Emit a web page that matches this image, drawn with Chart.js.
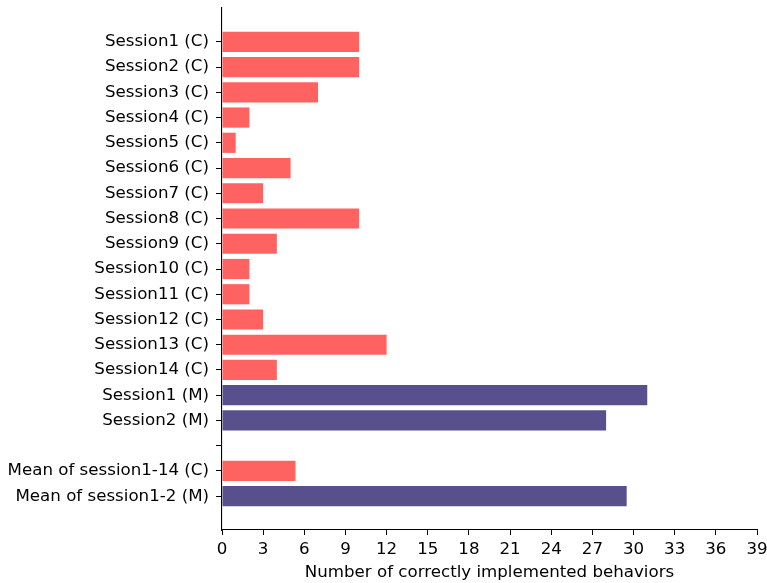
<!DOCTYPE html>
<html>
<head>
<meta charset="utf-8">
<script src="https://cdn.jsdelivr.net/npm/chart.js@4.4.1/dist/chart.umd.min.js"></script>
<style>
  html, body { margin: 0; padding: 0; background: #fff; }
  #wrap { width: 767px; height: 583px; position: relative; }
</style>
</head>
<body>
<div id="wrap"><canvas id="chart" width="767" height="583"></canvas></div>
<script>
// Row labels, top to bottom (the empty entry is a spacer row)
const categories = [
  'Session1 (C)', 'Session2 (C)', 'Session3 (C)', 'Session4 (C)', 'Session5 (C)',
  'Session6 (C)', 'Session7 (C)', 'Session8 (C)', 'Session9 (C)', 'Session10 (C)',
  'Session11 (C)', 'Session12 (C)', 'Session13 (C)', 'Session14 (C)',
  'Session1 (M)', 'Session2 (M)', '',
  'Mean of session1-14 (C)', 'Mean of session1-2 (M)'
];
const cSessions = ['Session1 (C)', 'Session2 (C)', 'Session3 (C)', 'Session4 (C)', 'Session5 (C)',
  'Session6 (C)', 'Session7 (C)', 'Session8 (C)', 'Session9 (C)', 'Session10 (C)',
  'Session11 (C)', 'Session12 (C)', 'Session13 (C)', 'Session14 (C)'];
const cValues = [10, 10, 7, 2, 1, 5, 3, 10, 4, 2, 2, 3, 12, 4];
const mSessions = ['Session1 (M)', 'Session2 (M)'];
const mValues = [31, 28];
const meanLabels = ['Mean of session1-14 (C)', 'Mean of session1-2 (M)'];
const meanValues = [5.36, 29.5];
const xTicks = [0, 3, 6, 9, 12, 15, 18, 21, 24, 27, 30, 33, 36, 39];

const FONT = "'DejaVu Sans', sans-serif";
const FONT_SIZE = 16.67;
const RED = '#ff6361';
const PURPLE = '#58508d';

const toPoints = (labels, values) => labels.map((l, i) => ({ x: values[i], y: categories.indexOf(l) }));

const cData = toPoints(cSessions, cValues).concat(toPoints([meanLabels[0]], [meanValues[0]]));
const mData = toPoints(mSessions, mValues).concat(toPoints([meanLabels[1]], [meanValues[1]]));

// bars span -0.4..n-0.6, plus 5% margin on each side
const n = categories.length;
const span = (n - 1) + 0.8;
const yMin = -0.4 - span * 0.05;
const yMax = (n - 1) + 0.4 + span * 0.05;

// keep tick labels from pushing the plot area inward
const noLabelPadding = (axis) => {
  axis.paddingTop = 0; axis.paddingBottom = 0;
  axis.paddingLeft = 0; axis.paddingRight = 0;
};

new Chart(document.getElementById('chart'), {
  type: 'bar',
  data: {
    datasets: [
      { label: 'C', data: cData, backgroundColor: RED, barPercentage: 0.8, categoryPercentage: 1.0, grouped: false },
      { label: 'M', data: mData, backgroundColor: PURPLE, barPercentage: 0.8, categoryPercentage: 1.0, grouped: false }
    ]
  },
  options: {
    indexAxis: 'y',
    responsive: false,
    animation: false,
    layout: { padding: { top: 8, right: 10, left: 0, bottom: 0 } },
    plugins: { legend: { display: false }, tooltip: { enabled: false } },
    scales: {
      x: {
        type: 'linear',
        min: 0,
        max: 39,
        offset: false,
        afterBuildTicks: (axis) => { axis.ticks = xTicks.map(v => ({ value: v })); },
        afterFit: (axis) => { axis.height = 53; noLabelPadding(axis); },
        grid: { offset: false, drawOnChartArea: false, drawTicks: true, tickLength: 5, color: '#000', lineWidth: 1 },
        border: { display: true, color: '#000', width: 1.1 },
        ticks: { color: '#000', font: { family: FONT, size: FONT_SIZE }, padding: 5, maxRotation: 0, autoSkip: false },
        title: { display: true, text: 'Number of correctly implemented behaviors', color: '#000', font: { family: FONT, size: FONT_SIZE }, padding: { top: 0, bottom: 0 } }
      },
      y: {
        type: 'linear',
        reverse: true,
        min: yMin,
        max: yMax,
        offset: false,
        afterBuildTicks: (axis) => { axis.ticks = categories.map((_, i) => ({ value: i })); },
        afterFit: (axis) => { axis.width = 222; noLabelPadding(axis); },
        grid: { offset: false, drawOnChartArea: false, drawTicks: true, tickLength: 6, color: '#000', lineWidth: 1 },
        border: { display: true, color: '#000', width: 1.1 },
        ticks: {
          color: '#000', font: { family: FONT, size: FONT_SIZE }, padding: 7, autoSkip: false,
          callback: (v) => categories[v] ?? ''
        }
      }
    }
  }
});
</script>
</body>
</html>
